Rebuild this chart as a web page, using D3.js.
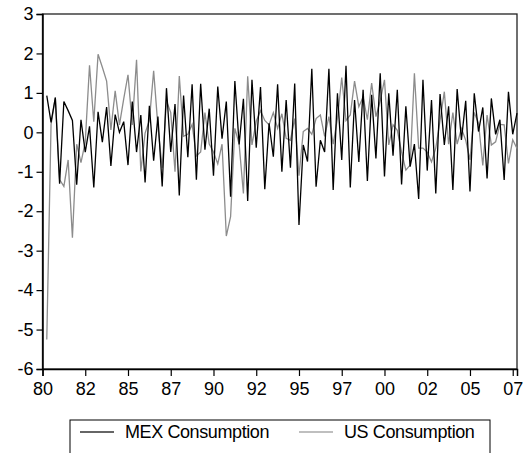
<!DOCTYPE html>
<html>
<head>
<meta charset="utf-8">
<script src="https://cdn.jsdelivr.net/npm/d3@7"></script>
<style>
  body { margin: 0; background: #fff; }
  text { font-family: "Liberation Sans", Arial, sans-serif; }
</style>
</head>
<body>
<div id="chart"></div>
<script>
// Quarterly series, 1980Q2 - 2007Q4
var startYear = 1980, startQuarter = 2;

var mexConsumption = [
    0.93, 0.25, 0.88, -1.3, 0.78, 0.55, 0.3, -1.33, 0.32, -0.5,
    0.15, -1.4, 0.52, -0.25, 0.64, -0.85, 0.45, 0.0, 0.27, -0.83,
    0.78, -0.5, 0.44, -1.27, 0.67, -0.72, 0.4, -1.37, 1.12, -0.5,
    0.72, -1.6, 0.93, -0.63, 1.22, -1.2, 1.23, -0.44, 0.6, -1.1,
    1.16, -0.16, 0.78, -1.63, 1.3, -0.31, 0.85, -1.74, 1.33, -0.39,
    1.15, -1.44, 0.23, -0.62, 1.22, -1.0, 0.82, -0.9, 1.24, -2.35,
    -0.32, -0.74, 1.61, -1.38, -0.2, -0.5, 1.61, -1.46, 0.99, -0.7,
    1.69, -1.4, 0.82, -0.75, 1.08, -1.23, 0.95, -0.66, 1.5, -1.12,
    0.99, -0.59, 1.08, -1.32, 0.66, -0.87, -0.3, -1.69, 1.33, -0.97,
    0.82, -1.55, 0.97, -0.32, 0.66, -1.46, 1.1, -0.19, 0.8, -1.5,
    0.99, 0.02, 0.63, -1.17, 0.86, -0.05, 0.32, -1.21, 1.03, -0.05,
    0.49
];

var usConsumption = [
    -5.25, 0.2, 0.88, -1.2, -1.37, -0.7, -2.67, -0.3, -0.77, -0.25,
    1.7, 0.27, 1.98, 1.65, 1.3, 0.06, 1.05, 0.19, 0.85, 1.46,
    0.19, 1.84, -0.99, -0.02, 0.3, 1.56, 0.15, -0.9, 0.8, 0.5,
    -1.0, 1.43, -0.1, -0.05, 0.2, -0.6, -0.5, 0.5, -0.3, -0.5,
    -0.8, -0.3, -2.63, -2.14, 0.1, -0.3, -1.55, 1.42, -0.32, 0.28,
    0.55, 0.3, 0.19, 0.5, 0.1, 0.47, -0.15, -0.2, 0.35, -1.1,
    0.02, 0.1, -0.05, 0.35, 0.44, -0.1, 0.4, -0.3, 0.35, 1.39,
    0.3, 0.44, 1.3, 0.65, 0.9, 0.32, 1.25, 0.4, 0.8, 1.33,
    -0.32, 0.19, 0.05, -0.5, -0.96, -0.83, 1.5, -0.4, -0.4, -0.5,
    -0.75, -0.4, 0.3, 1.03, -0.3, 0.5, -0.3, 0.1, -0.2, -0.7,
    0.5, 0.23, -0.84, 0.44, -0.32, -0.24, 0.2, 0.19, -0.79, -0.19,
    -0.41
];

var yTicks = [-6, -5, -4, -3, -2, -1, 0, 1, 2, 3];
var xTickValues = [1980, 1982.5, 1985, 1987.5, 1990, 1992.5, 1995, 1997.5, 2000, 2002.5, 2005, 2007.5];
var xTickLabels = ["80", "82", "85", "87", "90", "92", "95", "97", "00", "02", "05", "07"];

var seriesNames = ["MEX Consumption", "US Consumption"];
var seriesColors = ["#000000", "#8c8c8c"];

// time of each observation as fractional year
function quarterTime(i) {
    return startYear + (startQuarter - 1 + i) / 4;
}

var W = 524, H = 453;
var plot = { left: 42.5, right: 517, top: 14, bottom: 369 };

var svg = d3.select("#chart")
    .append("svg")
    .attr("width", W)
    .attr("height", H);

var x = d3.scaleLinear().domain([1980, 2007.75]).range([plot.left, plot.right]);
var y = d3.scaleLinear().domain([-6, 3]).range([plot.bottom, plot.top]);

// frame
svg.append("rect")
    .attr("x", plot.left)
    .attr("y", plot.top)
    .attr("width", plot.right - plot.left)
    .attr("height", plot.bottom - plot.top)
    .attr("fill", "none")
    .attr("stroke", "#222")
    .attr("stroke-width", 1.3);

// lines (US drawn first, MEX on top)
var line = d3.line()
    .x(function(d) { return x(d.t); })
    .y(function(d) { return y(d.v); });

[usConsumption, mexConsumption].forEach(function(values, k) {
    var data = values.map(function(v, i) { return { t: quarterTime(i), v: v }; });
    svg.append("path")
        .datum(data)
        .attr("fill", "none")
        .attr("stroke", k === 0 ? seriesColors[1] : seriesColors[0])
        .attr("stroke-width", 1.3)
        .attr("stroke-linejoin", "miter")
        .attr("d", line);
});

// Y axis
var yAxis = svg.append("g")
    .attr("transform", "translate(" + plot.left + ",0)")
    .call(d3.axisLeft(y).tickValues(yTicks).tickSize(6).tickPadding(3).tickFormat(d3.format("d")));
yAxis.select(".domain").attr("stroke", "#000").attr("stroke-width", 1.5);
yAxis.selectAll(".tick line").attr("stroke", "#000").attr("stroke-width", 1.2);
yAxis.selectAll(".tick text")
    .attr("font-size", 18)
    .attr("fill", "#000")
    .text(function(d) { return d < 0 ? "-" + Math.abs(d) : d; });

// X axis
var xAxis = svg.append("g")
    .attr("transform", "translate(0," + plot.bottom + ")")
    .call(d3.axisBottom(x).tickValues(xTickValues).tickSize(7).tickPadding(6)
        .tickFormat(function(d, i) { return xTickLabels[i]; }));
xAxis.select(".domain").attr("stroke", "#000").attr("stroke-width", 1.5);
xAxis.selectAll(".tick line").attr("stroke", "#000").attr("stroke-width", 1.2);
xAxis.selectAll(".tick text").attr("font-size", 18).attr("fill", "#000");

// legend
var legend = svg.append("g").attr("class", "legend");
legend.append("rect")
    .attr("x", 70)
    .attr("y", 420)
    .attr("width", 420)
    .attr("height", 40)
    .attr("fill", "#fff")
    .attr("stroke", "#000")
    .attr("stroke-width", 1);

var legendX = [80, 299];
seriesNames.forEach(function(name, i) {
    legend.append("line")
        .attr("x1", legendX[i])
        .attr("x2", legendX[i] + 34)
        .attr("y1", 432)
        .attr("y2", 432)
        .attr("stroke", i === 0 ? "#333" : "#aaa")
        .attr("stroke-width", 1.3);
    legend.append("text")
        .attr("x", legendX[i] + 45)
        .attr("y", 438)
        .attr("font-size", 18)
        .attr("letter-spacing", -0.4)
        .attr("fill", "#000")
        .text(name);
});
</script>
</body>
</html>
